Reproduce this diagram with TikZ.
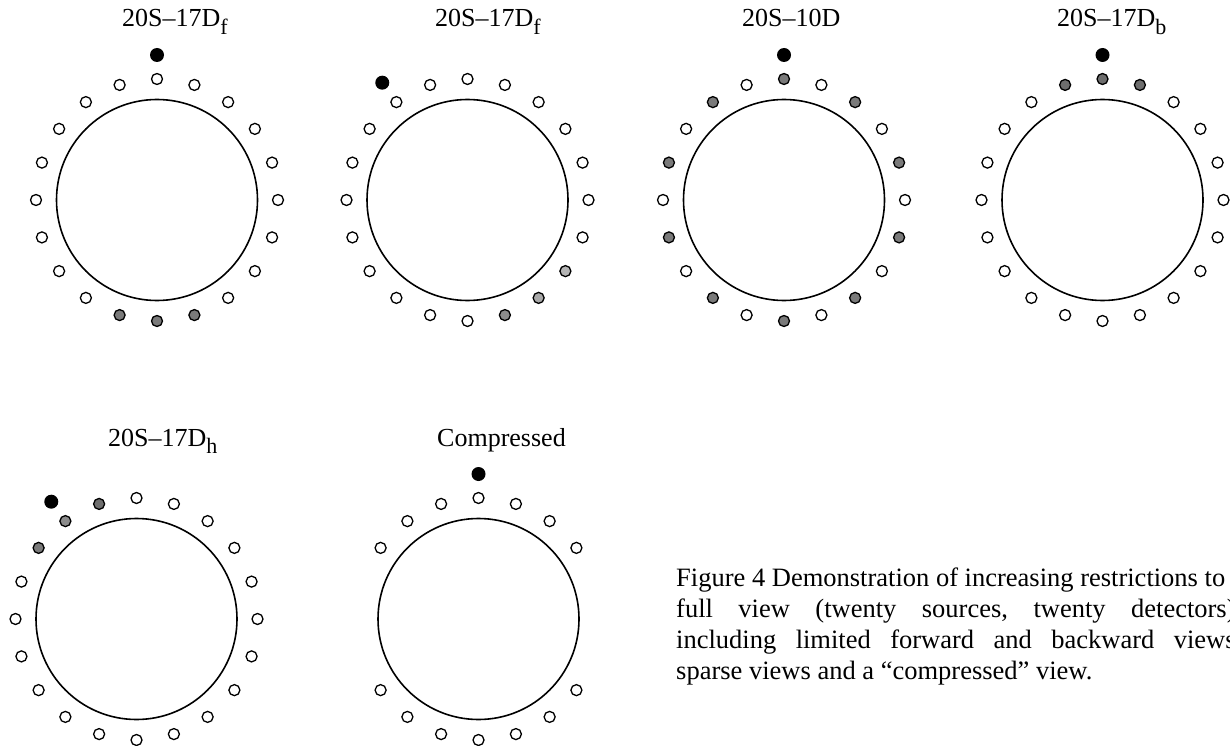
\documentclass[tikz,border=0pt]{standalone}
\usepackage{fontspec}
\setmainfont{Liberation Serif}
\definecolor{gA}{HTML}{7A7A7A}
\definecolor{gB}{HTML}{A8A8A8}
\definecolor{gC}{HTML}{B4B4B4}
\definecolor{gD}{HTML}{8C8C8C}
\definecolor{gE}{HTML}{6E6E6E}
\tikzset{
  det/.style={circle, draw=black, line width=1.3pt, minimum size=11pt, inner sep=0pt, fill=white},
  dA/.style={det, fill=gA},
  dB/.style={det, fill=gB},
  dC/.style={det, fill=gC},
  dD/.style={det, fill=gD},
  dE/.style={det, fill=gE},
  src/.style={circle, fill=black, minimum size=14pt, inner sep=0pt},
  body/.style={circle, draw=black, line width=1.6pt, minimum size=201pt, inner sep=0pt},
  ttl/.style={anchor=base west, inner sep=0pt, font=\fontsize{26}{30}\selectfont},
  captext/.style={anchor=base west, inner sep=0pt, font=\fontsize{26.5}{31.5}\selectfont}
}
\newcommand\subs[1]{\raisebox{-0.28em}{\fontsize{22}{22}\selectfont #1}}
\newcommand\ringset[5]{%
  \node[body] (#1body) at (#2,#3) {};
  \foreach \a/\s [count=\i] in {#4}
    \node[\s] (#1d\i) at ({#2+121*cos(\a)},{#3-121*sin(\a)}) {};
  \node[src] (#1src) at ({#2+145*cos(#5)},{#3-145*sin(#5)}) {};
}
\begin{document}
\begin{tikzpicture}[x=1pt,y=-1pt]
\useasboundingbox (0,0) rectangle (1230,746);
\fill[white] (0,0) rectangle (1230,746);

% panel 1
\node[ttl] (t1) at (122,27) {20S–17D\subs{f}};
\ringset{pa}{157}{200}{90/det,72/det,54/det,36/det,18/det,0/det,-18/det,-36/det,-54/det,-72/dA,-90/dA,-108/dA,-126/det,-144/det,-162/det,180/det,162/det,144/det,126/det,108/det}{90}

% panel 2
\node[ttl] (t2) at (435,27) {20S–17D\subs{f}};
\ringset{pb}{467.5}{200}{90/det,72/det,54/det,36/det,18/det,0/det,-18/det,-36/dC,-54/dB,-72/dD,-90/det,-108/det,-126/det,-144/det,-162/det,180/det,162/det,144/det,126/det,108/det}{126}

% panel 3
\node[ttl] (t3) at (742,27) {20S–10D};
\ringset{pc}{784}{200}{90/dA,72/det,54/dA,36/det,18/dA,0/det,-18/dA,-36/det,-54/dA,-72/det,-90/dA,-108/det,-126/dA,-144/det,-162/dA,180/det,162/dA,144/det,126/dA,108/det}{90}

% panel 4
\node[ttl] (t4) at (1057,27) {20S–17D\subs{b}};
\ringset{pd}{1102.5}{200}{90/dE,72/dE,54/det,36/det,18/det,0/det,-18/det,-36/det,-54/det,-72/det,-90/det,-108/det,-126/det,-144/det,-162/det,180/det,162/det,144/det,126/det,108/dE}{90}

% panel 5
\node[ttl] (t5) at (108,446) {20S–17D\subs{h}};
\ringset{pe}{136.5}{619}{90/det,72/det,54/det,36/det,18/det,0/det,-18/det,-36/det,-54/det,-72/det,-90/det,-108/det,-126/det,-144/det,-162/det,180/det,162/det,144/dA,126/dD,108/dE}{126}

% panel 6
\node[ttl] (t6) at (437,446) {Compressed};
\ringset{pf}{478.5}{619}{90/det,72/det,54/det,36/det,-36/det,-54/det,-72/det,-90/det,-108/det,-126/det,-144/det,144/det,126/det,108/det}{90}

% caption
\node[captext] (c1) at (676,586.5) {Figure 4 Demonstration of increasing restrictions to};
\node[captext] (c2) at (676,617.5) {\hbox to 566pt{full\hfill view\hfill (twenty\hfill sources,\hfill twenty\hfill detectors),}};
\node[captext] (c3) at (676,648.5) {\hbox to 566pt{including\hfill limited\hfill forward\hfill and\hfill backward\hfill views,}};
\node[captext] (c4) at (676,679.5) {sparse views and a “compressed” view.};
\end{tikzpicture}
\end{document}
